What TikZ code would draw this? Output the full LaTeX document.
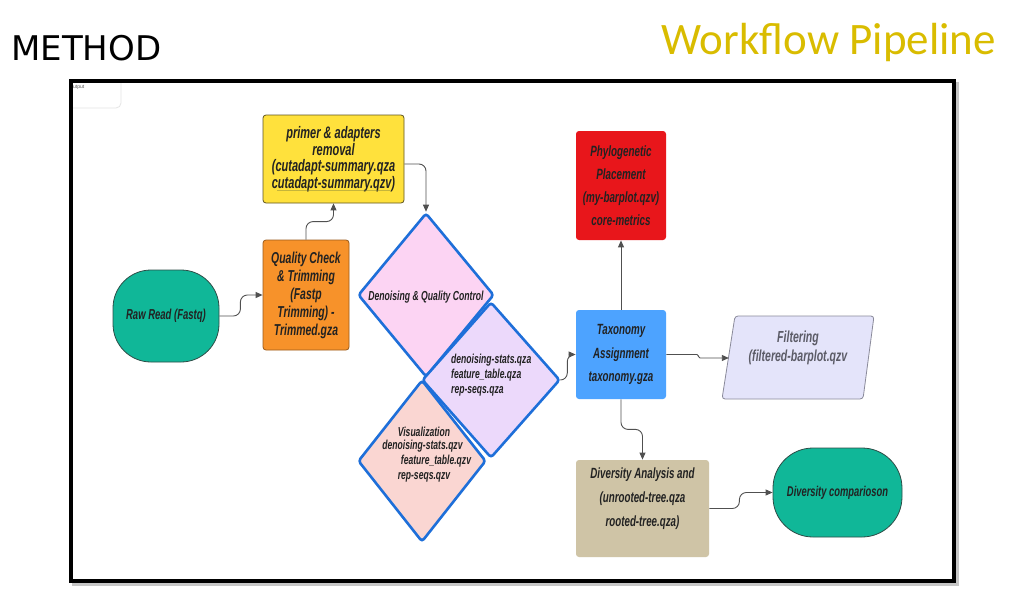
\documentclass[tikz,border=0pt]{standalone}
\usepackage{fontspec}
\setmainfont{Liberation Sans}
\newfontfamily\nodefont[FakeStretch=0.66]{Liberation Sans}
\newfontfamily\titlefont{DejaVu Sans}
\newfontfamily\wpfont{Carlito}
\usetikzlibrary{shapes.geometric,arrows.meta}
\newcommand\nfs[2]{\nodefont\bfseries\itshape\fontsize{#1}{#2}\selectfont}
\definecolor{txtc}{HTML}{222222}
\definecolor{lc}{HTML}{505050}
\definecolor{cteal}{HTML}{10B798}
\definecolor{ctealb}{HTML}{2E4D47}
\definecolor{corange}{HTML}{F7922A}
\definecolor{corangeb}{HTML}{9A5A1A}
\definecolor{cyellow}{HTML}{FFE13C}
\definecolor{cyellowb}{HTML}{5E5420}
\definecolor{cpink}{HTML}{FCD4F3}
\definecolor{clav}{HTML}{ECD9FB}
\definecolor{csalmon}{HTML}{FAD6D2}
\definecolor{dblue}{HTML}{1E6FD9}
\definecolor{cred}{HTML}{E8161B}
\definecolor{cblue}{HTML}{4DA3FF}
\definecolor{cfilt}{HTML}{E4E4FA}
\definecolor{cfiltb}{HTML}{8A8A9A}
\definecolor{cgraytxt}{HTML}{5B5B66}
\definecolor{ctan}{HTML}{CFC4A6}
\definecolor{cgold}{HTML}{D9BC00}
\begin{document}
\begin{tikzpicture}[x=1pt,y=-1pt,
  txt/.style={text=txtc, align=center, inner sep=0pt},
  proc/.style={rectangle, rounded corners=3pt, inner sep=0pt, align=center, text=txtc, line width=0.8pt},
  dia/.style={diamond, draw=dblue, line width=2.6pt, rounded corners=3pt, inner sep=0pt},
  conn/.style={draw=lc, line width=0.9pt, rounded corners=7pt, -{Triangle[length=7pt,width=6pt]}}]
\useasboundingbox (0,0) rectangle (1023,594);
% titles
\node[anchor=base west, inner sep=0pt, font=\titlefont\fontsize{34}{34}\selectfont] (meth) at (11,60) {METHOD};
\node[anchor=base east, inner sep=0pt, text=cgold, font=\wpfont\fontsize{45}{45}\selectfont] (wf) at (996,55) {Workflow Pipeline};
% frame
\draw[gray!45, line width=4pt] (74,84.5) rectangle (956.5,584);
\draw[black, fill=white, line width=4pt] (71,81.5) rectangle (953.5,581);
\begin{scope}
\clip (73,83.5) rectangle (951.5,579);
\draw[gray!20, line width=0.8pt, rounded corners=5pt] (40,50) rectangle (121,108);
\end{scope}
\node[anchor=north west, inner sep=0pt, text=gray!70!black, font=\fontsize{5}{6}\selectfont] (outp) at (73,85) {utput};
% nodes
\node[proc, fill=cteal, draw=ctealb, rounded corners=38pt, minimum width=106pt, minimum height=92pt, font=\nfs{14.4}{16}] (raw) at (166,316) {Raw Read (Fastq)};
\node[proc, fill=corange, draw=corangeb, minimum width=86pt, minimum height=110pt, font=\nfs{15.8}{18}] (qc) at (306,295) {Quality Check\\ \& Trimming\\ (Fastp\\ Trimming) -\\ Trimmed.gza};
\node[proc, fill=cyellow, draw=cyellowb, minimum width=141pt, minimum height=88pt, font=\nfs{16.7}{16.5}] (prim) at (333.5,159) {primer \& adapters\\ removal\\ (cutadapt-summary.qza\\ cutadapt-summary.qzv)};
\draw[olive!60!gray, line width=1pt, opacity=0.5] (277,190) -- (390,190);
\node[dia, fill=cpink, minimum width=136pt, minimum height=164pt] (d1) at (426,295) {};
\node[dia, fill=csalmon, minimum width=128pt, minimum height=162pt] (d3) at (422,461) {};
\node[dia, fill=clav, minimum width=138pt, minimum height=156pt] (d2) at (491,380) {};
\node[txt, font=\nfs{13.1}{14}] (d1t) at (426,297) {Denoising \& Quality Control};
\node[txt, font=\nfs{13}{15}, align=left, anchor=west] (d2t) at (451,375) {denoising-stats.qza\\feature\_table.qza\\rep-seqs.qza};
\node[txt, font=\nfs{13}{14}] (v1) at (424,432) {Visualization};
\node[txt, font=\nfs{13}{14}] (v2) at (422.5,446) {denoising-stats.qzv};
\node[txt, font=\nfs{13}{14}] (v3) at (436,461) {feature\_table.qzv};
\node[txt, font=\nfs{13}{14}] (v4) at (424,477) {rep-seqs.qzv};
\node[proc, fill=cred, minimum width=90pt, minimum height=109pt, font=\nfs{14.9}{23}] (phy) at (621,185.5) {Phylogenetic\\ Placement\\ (my-barplot.qzv)\\ core-metrics};
\node[proc, fill=cblue, minimum width=90pt, minimum height=89pt, font=\nfs{14.8}{23.5}] (tax) at (621,354.5) {Taxonomy\\ Assignment\\ taxonomy.gza};
\draw[fill=cfilt, draw=cfiltb, rounded corners=3pt, line width=0.8pt] (735,316) -- (874,316) -- (863,399) -- (722,399) -- cycle;
\node[inner sep=0pt, minimum width=138pt, minimum height=83pt] (filt) at (798,358) {};
\node[txt, text=cgraytxt, font=\nfs{16}{19}] (ftxt) at (798,347.5) {Filtering\\ (filtered-barplot.qzv};
\node[proc, fill=ctan, minimum width=133pt, minimum height=97pt] (div) at (642.5,508.5) {};
\node[txt, font=\nfs{14.8}{24}] (divt) at (642.5,499) {Diversity Analysis and\\ (unrooted-tree.qza\\ rooted-tree.qza)};
\node[proc, fill=cteal, draw=ctealb, rounded corners=40pt, minimum width=129pt, minimum height=89pt, font=\nfs{14.2}{16}] (comp) at (837.5,492.5) {Diversity comparioson};
% connectors
\draw[conn] (raw.east) -- ++(21,0) |- (qc.west);
\draw[conn] (qc.north) -- ++(0,-18) -| (prim.south);
\draw[conn] ([yshift=-5pt]prim.east) -| (d1.north);
\draw[conn] (d2.east) -- ++(6,0) |- (tax.west);
\draw[conn, rounded corners=1.5pt] (tax.east) -- ++(32,0) |- (filt.west);
\draw[conn] (tax.north) -- (phy.south);
\draw[conn] (tax.south) -- ++(0,30) -| (div.north);
\draw[conn] (div.east) -- ++(30,0) |- (comp.west);
\end{tikzpicture}
\end{document}
